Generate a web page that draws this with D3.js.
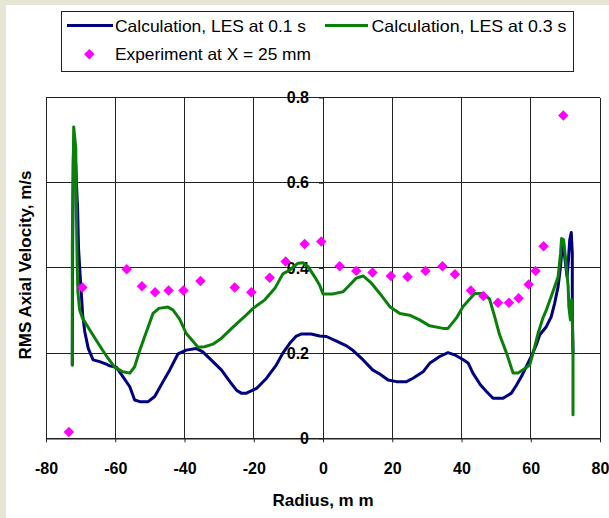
<!DOCTYPE html>
<html>
<head>
<meta charset="utf-8">
<script src="https://cdn.jsdelivr.net/npm/d3@7"></script>
<style>
  html, body { margin: 0; padding: 0; background: #e7e5d3; }
  svg { display: block; }
  text { font-family: "Liberation Sans", Arial, sans-serif; }
</style>
</head>
<body>
<svg id="chart" width="609" height="518"></svg>
<script>
// RMS axial velocity profiles across the radius
const xTicks = [-80, -60, -40, -20, 0, 20, 40, 60, 80];
const xTickLabels = ["-80", "-60", "-40", "-20", "0", "20", "40", "60", "80"];
const yTicks = [0, 0.2, 0.4, 0.6, 0.8];
const yTickLabels = ["0", "0.2", "0.4", "0.6", "0.8"];

const seriesNames = ["Calculation, LES at 0.1 s", "Calculation, LES at 0.3 s", "Experiment at X = 25 mm"];

// LES at 0.1 s
const les01Radius = [-72.4, -72.3, -72.1, -71.8, -71.4, -71.0, -70.9, -70.6, -70.2, -69.9, -69.4, -68.8, -67.8,
  -66.4, -64.5, -62.6, -61.6, -59.7, -57.8, -55.8, -54.4, -52.9, -50.5, -48.6, -46.2, -44.3, -41.9, -39.5,
  -36.6, -34.7, -31.8, -29.3, -26.9, -25.0, -23.6, -22.1, -19.2, -16.3, -13.5, -11.6, -9.6, -7.7, -6.2,
  -3.4, -1.0, 1.0, 3.9, 6.8, 8.7, 11.6, 14.4, 16.4, 18.8, 21.2, 24.1, 26.0, 28.9, 30.8, 33.7, 36.1, 38.0,
  40.4, 41.9, 43.3, 45.5, 47.2, 49.1, 52.0, 54.4, 55.9, 57.3, 58.7, 59.9, 61.6, 62.6, 64.5, 65.9, 66.9,
  67.9, 68.6, 69.0, 69.4, 69.8, 70.5, 70.9, 71.25, 71.7, 72.0, 72.0, 72.2];
const les01Value = [0.172, 0.45, 0.66, 0.70, 0.64, 0.56, 0.548, 0.446, 0.391, 0.352, 0.289, 0.250, 0.211,
  0.184, 0.180, 0.174, 0.170, 0.167, 0.145, 0.121, 0.090, 0.086, 0.086, 0.098, 0.133, 0.160, 0.198, 0.207,
  0.211, 0.203, 0.180, 0.160, 0.133, 0.113, 0.106, 0.106, 0.117, 0.141, 0.172, 0.200, 0.223, 0.240, 0.245,
  0.245, 0.240, 0.239, 0.228, 0.217, 0.206, 0.184, 0.160, 0.151, 0.137, 0.133, 0.133, 0.141, 0.156, 0.176,
  0.192, 0.201, 0.196, 0.185, 0.177, 0.153, 0.125, 0.110, 0.094, 0.094, 0.106, 0.125, 0.145, 0.168, 0.188,
  0.219, 0.243, 0.262, 0.285, 0.317, 0.356, 0.403, 0.442, 0.460, 0.426, 0.379, 0.420, 0.466, 0.483, 0.434,
  0.300, 0.200];

// LES at 0.3 s
const les03Radius = [-72.4, -72.4, -72.2, -72.0, -71.4, -71.3, -71.2, -71.0, -70.8, -70.3, -69.5, -67.8,
  -65.4, -63.5, -62.1, -60.2, -57.8, -55.8, -54.4, -52.9, -51.0, -49.1, -47.4, -44.8, -43.3, -41.4, -39.5,
  -37.5, -36.1, -34.2, -31.8, -29.3, -26.0, -22.6, -20.2, -16.8, -13.9, -11.6, -9.6, -7.2, -5.8, -4.3, -2.4,
  -1.0, 0.0, 2.9, 5.8, 7.7, 9.6, 11.6, 14.0, 16.4, 19.3, 22.2, 25.0, 27.9, 30.8, 34.7, 36.1, 38.5, 40.4,
  43.8, 46.2, 48.1, 49.6, 51.0, 53.0, 54.9, 56.3, 58.3, 59.7, 60.9, 62.1, 63.5, 64.5, 66.4, 67.9, 68.6,
  68.9, 69.5, 70.1, 70.8, 71.0, 71.45, 71.8, 72.0, 72.2, 72.2];
const les03Value = [0.172, 0.45, 0.60, 0.731, 0.681, 0.60, 0.52, 0.41, 0.345, 0.302, 0.283, 0.260, 0.229,
  0.205, 0.188, 0.167, 0.156, 0.153, 0.168, 0.207, 0.250, 0.293, 0.305, 0.308, 0.301, 0.280, 0.246, 0.227,
  0.214, 0.215, 0.221, 0.235, 0.261, 0.286, 0.305, 0.325, 0.352, 0.386, 0.395, 0.411, 0.412, 0.403, 0.379,
  0.360, 0.339, 0.339, 0.344, 0.360, 0.376, 0.381, 0.364, 0.340, 0.309, 0.293, 0.289, 0.278, 0.264, 0.258,
  0.258, 0.282, 0.309, 0.340, 0.340, 0.327, 0.285, 0.243, 0.200, 0.153, 0.153, 0.164, 0.172, 0.207, 0.246,
  0.282, 0.301, 0.344, 0.379, 0.434, 0.469, 0.466, 0.419, 0.356, 0.309, 0.278, 0.325, 0.278, 0.200, 0.055];

// Measurements at X = 25 mm
const expRadius = [-73.4, -69.5, -56.7, -52.3, -48.5, -44.6, -40.3, -35.4, -25.5, -20.7, -15.4, -10.8, -5.3,
  -0.5, 4.8, 9.6, 14.3, 19.6, 24.4, 29.6, 34.5, 38.1, 42.7, 46.3, 50.5, 53.7, 56.5, 59.4, 61.4, 63.7, 69.4];
const expValue = [0.015, 0.354, 0.397, 0.357, 0.343, 0.347, 0.347, 0.369, 0.354, 0.343, 0.377, 0.415, 0.456,
  0.462, 0.404, 0.393, 0.389, 0.381, 0.379, 0.393, 0.404, 0.385, 0.347, 0.334, 0.318, 0.318, 0.329, 0.361,
  0.393, 0.451, 0.758];

const colors = { les01: "#000080", les03: "#0a800a", exp: "#ff00ff" };

const svg = d3.select("#chart");
const W = 609, H = 518;
const plot = { left: 46, right: 600, top: 97.5, bottom: 438.3 };

// white panel on the beige backdrop
svg.append("rect").attr("x", 6).attr("y", 5).attr("width", W - 6).attr("height", H - 5).attr("fill", "#ffffff");

const x = d3.scaleLinear().domain([-80, 80]).range([plot.left, plot.right]);
const y = d3.scaleLinear().domain([0, 0.8]).range([plot.bottom, plot.top]);

// grid
const grid = svg.append("g");
grid.selectAll("line.v").data(xTicks).join("line")
  .attr("x1", d => x(d)).attr("x2", d => x(d))
  .attr("y1", plot.top).attr("y2", plot.bottom)
  .attr("stroke", "#222").attr("stroke-width", 1).attr("shape-rendering", "crispEdges");
grid.selectAll("line.h").data(yTicks).join("line")
  .attr("x1", plot.left).attr("x2", plot.right)
  .attr("y1", d => y(d)).attr("y2", d => y(d))
  .attr("stroke", "#222").attr("stroke-width", 1).attr("shape-rendering", "crispEdges");

// x axis along the bottom
const xAxis = svg.append("g").attr("transform", `translate(0,${plot.bottom})`)
  .call(d3.axisBottom(x).tickValues(xTicks).tickFormat((d, i) => xTickLabels[i])
    .tickSize(4).tickSizeOuter(0).tickPadding(20));
xAxis.select(".domain").attr("stroke", "#222").attr("stroke-width", 1.5);
xAxis.selectAll(".tick line").attr("stroke", "#222");
xAxis.selectAll(".tick text")
  .attr("font-family", "'Liberation Sans', Arial, sans-serif")
  .attr("font-size", 16).attr("font-weight", "bold").attr("fill", "#000");

// y axis crossing at radius 0
const yAxis = svg.append("g").attr("transform", `translate(${x(0)},0)`)
  .call(d3.axisLeft(y).tickValues(yTicks).tickFormat((d, i) => yTickLabels[i])
    .tickSize(4).tickSizeOuter(0).tickPadding(10));
yAxis.select(".domain").attr("stroke", "#222");
yAxis.selectAll(".tick line").attr("stroke", "#222");
yAxis.selectAll(".tick text")
  .attr("font-family", "'Liberation Sans', Arial, sans-serif")
  .attr("font-size", 16).attr("font-weight", "bold").attr("fill", "#000");

// series
const line = d3.line().x(d => x(d[0])).y(d => y(d[1]));
const les01 = d3.zip(les01Radius, les01Value);
const les03 = d3.zip(les03Radius, les03Value);
const exp = d3.zip(expRadius, expValue);

svg.append("path").datum(les01).attr("d", line)
  .attr("fill", "none").attr("stroke", colors.les01).attr("stroke-width", 3)
  .attr("stroke-linejoin", "round").attr("stroke-linecap", "round");
svg.append("path").datum(les03).attr("d", line)
  .attr("fill", "none").attr("stroke", colors.les03).attr("stroke-width", 3)
  .attr("stroke-linejoin", "round").attr("stroke-linecap", "round");

const diamond = d3.symbol().type(d3.symbolDiamond2).size(70);
svg.append("g").selectAll("path").data(exp).join("path")
  .attr("d", diamond)
  .attr("transform", d => `translate(${x(d[0])},${y(d[1])})`)
  .attr("fill", colors.exp);

// axis titles
svg.append("text")
  .attr("x", (plot.left + plot.right) / 2).attr("y", 506)
  .attr("text-anchor", "middle").attr("font-size", 17).attr("font-weight", "bold")
  .text("Radius, m m");
svg.append("text")
  .attr("transform", "translate(31,265) rotate(-90)")
  .attr("text-anchor", "middle").attr("font-size", 17).attr("font-weight", "bold")
  .text("RMS Axial Velocity, m/s");

// legend
const legend = svg.append("g");
legend.append("rect").attr("x", 61.5).attr("y", 11.5).attr("width", 512).attr("height", 60)
  .attr("fill", "#fff").attr("stroke", "#222").attr("stroke-width", 1);
const legendRows = [
  { kind: "line", color: colors.les01, x0: 67, x1: 113, tx: 115, cy: 25.5, w: 191, label: seriesNames[0] },
  { kind: "line", color: colors.les03, x0: 325, x1: 368, tx: 371.5, cy: 25.5, w: 195, label: seriesNames[1] },
  { kind: "dot", color: colors.exp, x0: 89.3, tx: 115, cy: 54.3, w: 196, label: seriesNames[2] }
];
legendRows.forEach(r => {
  if (r.kind === "line") {
    legend.append("line").attr("x1", r.x0).attr("x2", r.x1).attr("y1", r.cy).attr("y2", r.cy)
      .attr("stroke", r.color).attr("stroke-width", 3);
  } else {
    legend.append("path").attr("d", diamond).attr("transform", `translate(${r.x0},${r.cy})`).attr("fill", r.color);
  }
  legend.append("text").attr("x", r.tx).attr("y", r.cy + 6).attr("font-size", 16.5).attr("fill", "#000")
    .attr("textLength", r.w).attr("lengthAdjust", "spacingAndGlyphs")
    .text(r.label);
});
</script>
</body>
</html>
